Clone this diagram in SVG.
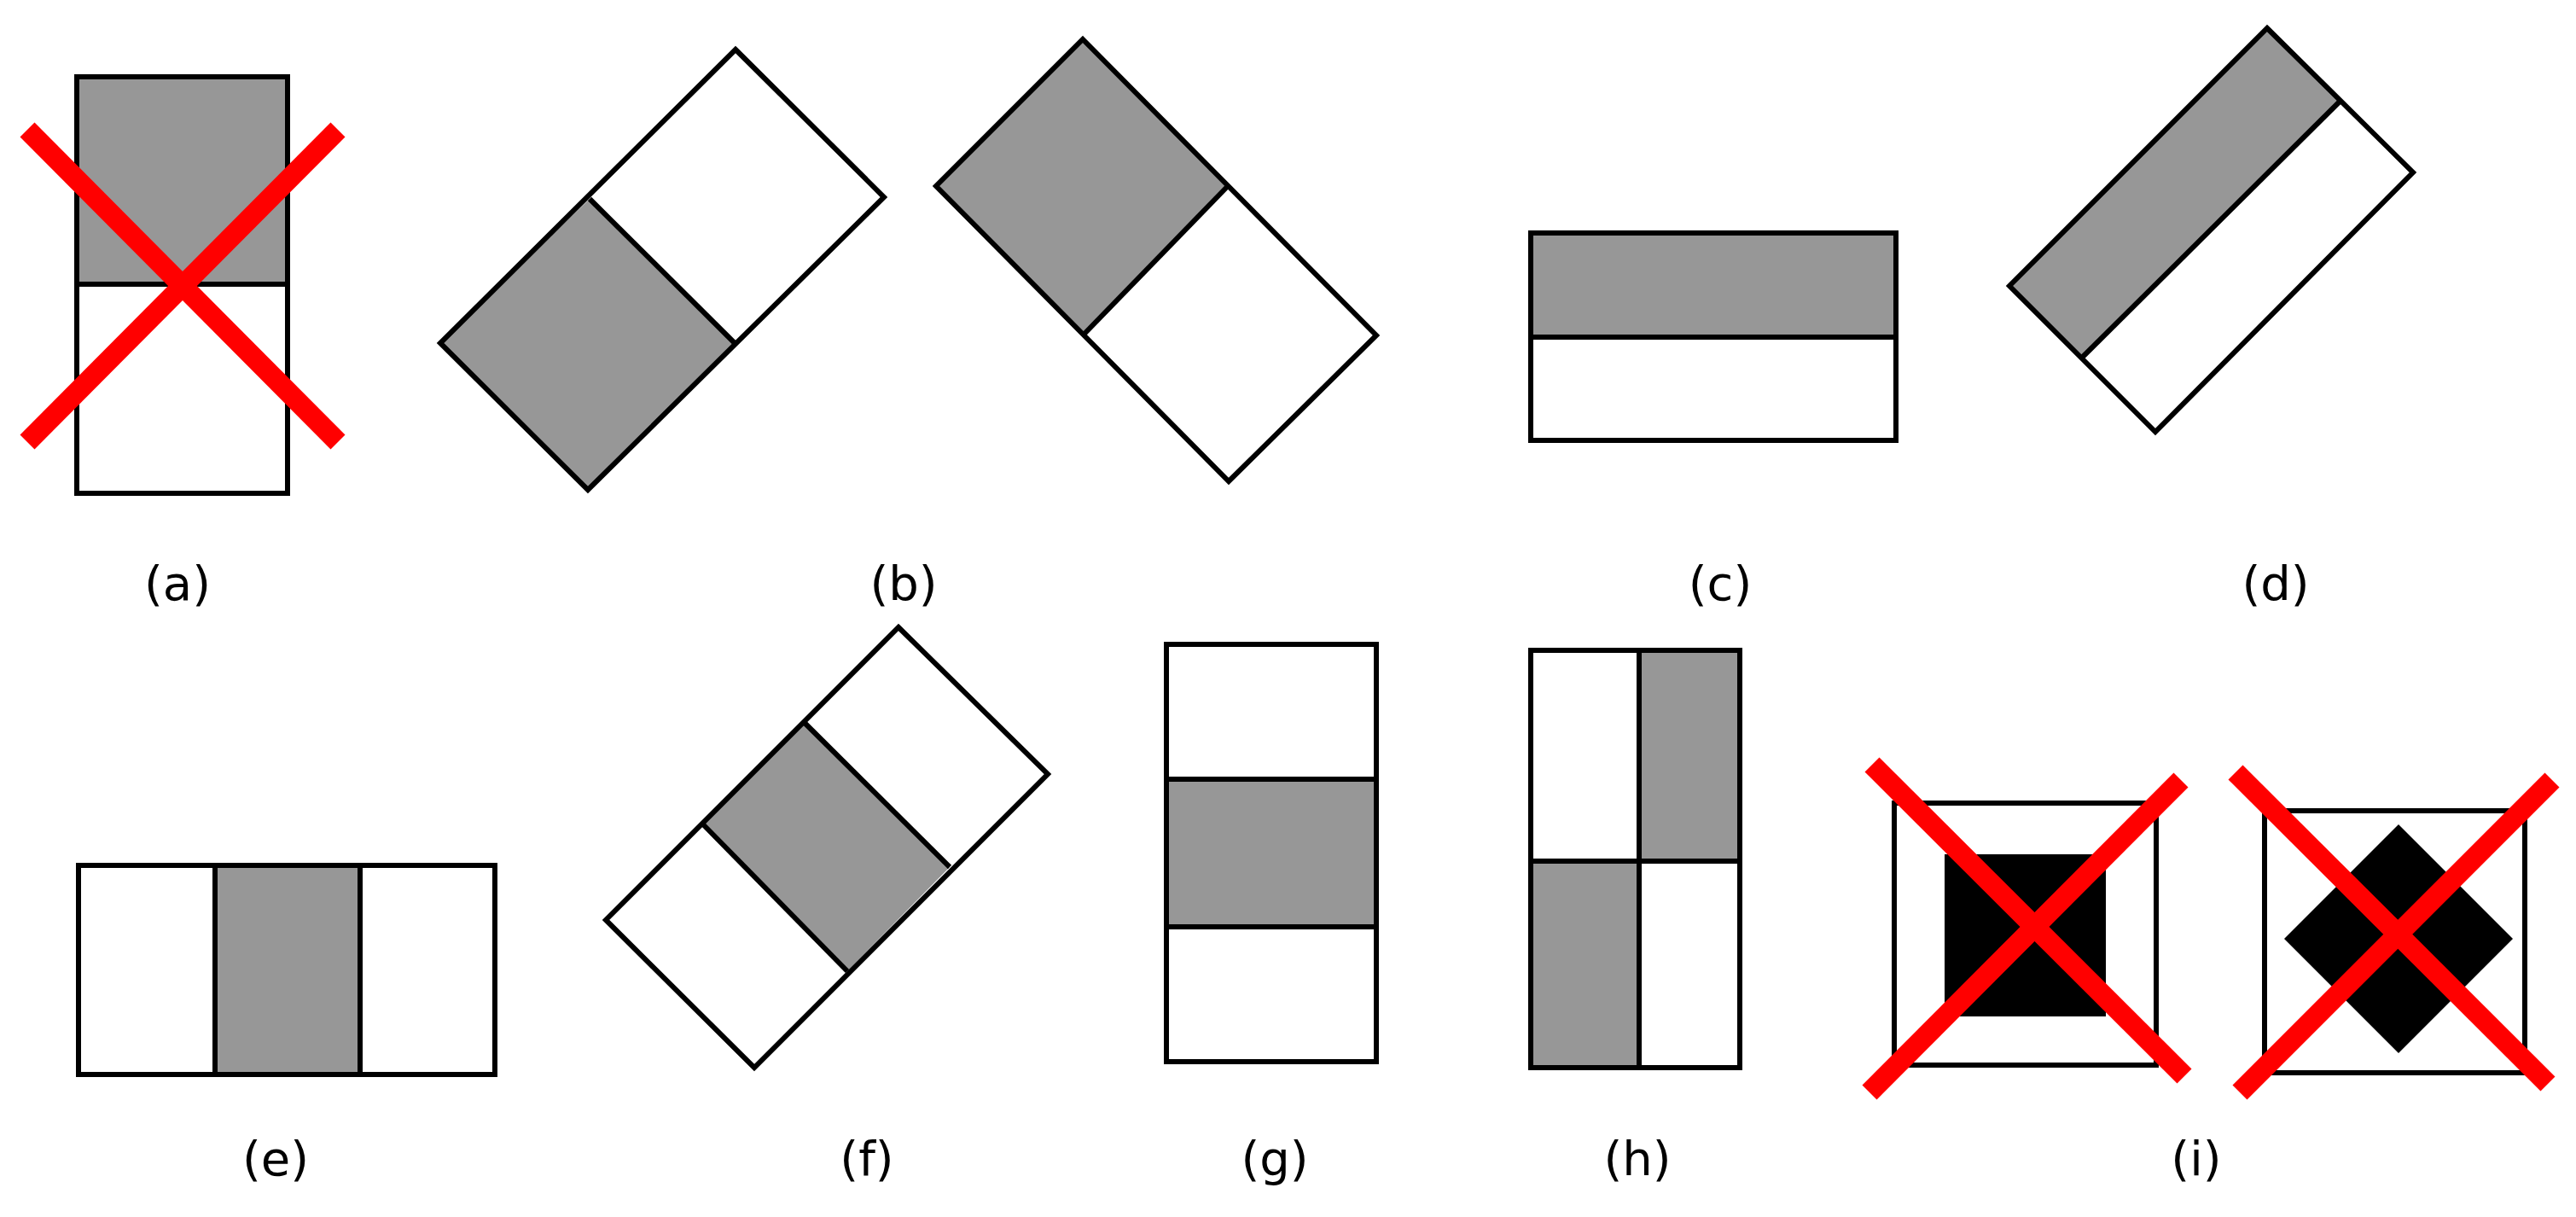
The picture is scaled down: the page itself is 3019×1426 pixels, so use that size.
<svg xmlns="http://www.w3.org/2000/svg" width="3019" height="1426" viewBox="0 0 3019 1426">
<style>
.s{stroke:#000;stroke-width:6;stroke-linejoin:miter;fill:none}
.g{fill:#979797}
.w{fill:#fff}
.x{stroke:#f00;stroke-width:24;fill:none}
text{font-family:"DejaVu Sans",sans-serif;font-size:56px;text-anchor:middle;fill:#000}
</style>
<rect width="3019" height="1426" fill="#fff"/>
<g id="a">
<rect class="g" x="90" y="90" width="247" height="243"/>
<rect class="s" x="90" y="90" width="247" height="488"/>
<line class="s" x1="90" y1="333" x2="337" y2="333"/>
<line class="x" x1="32" y1="152" x2="396" y2="518"/>
<line class="x" x1="396" y1="152" x2="32" y2="518"/>
<text x="208" y="703">(a)</text>
</g>
<g id="b1">
<polygon class="g" points="516,402 691,233 861,402 689,574"/>
<polygon class="s" points="862,58 1036,231 689,574 516,402"/>
<line class="s" x1="691" y1="233" x2="861" y2="402"/>
</g>
<g id="b2">
<polygon class="g" points="1097,218 1269,46 1438,219 1271,391"/>
<polygon class="s" points="1269,46 1613,393 1440,564 1097,218"/>
<line class="s" x1="1438" y1="219" x2="1271" y2="391"/>
<text x="1059" y="703">(b)</text>
</g>
<g id="c">
<rect class="g" x="1794" y="273" width="428" height="122"/>
<rect class="s" x="1794" y="273" width="428" height="243"/>
<line class="s" x1="1794" y1="395" x2="2222" y2="395"/>
<text x="2016" y="703">(c)</text>
</g>
<g id="d">
<polygon class="g" points="2355,335 2657,33 2742,119 2441,418"/>
<polygon class="s" points="2657,33 2828,202 2526,506 2355,335"/>
<line class="s" x1="2742" y1="119" x2="2441" y2="418"/>
<text x="2667" y="703">(d)</text>
</g>
<g id="e">
<rect class="g" x="252" y="1014" width="170" height="245"/>
<rect class="s" x="92" y="1014" width="488" height="245"/>
<line class="s" x1="252" y1="1014" x2="252" y2="1259"/>
<line class="s" x1="422" y1="1014" x2="422" y2="1259"/>
<text x="323" y="1377">(e)</text>
</g>
<g id="f">
<polygon class="g" points="943,847 1113,1016 993,1138 824,966"/>
<polygon class="s" points="1053,735 1228,907 884,1251 710,1078"/>
<line class="s" x1="943" y1="847" x2="1113" y2="1016"/>
<line class="s" x1="824" y1="966" x2="993" y2="1138"/>
<text x="1016" y="1377">(f)</text>
</g>
<g id="g">
<rect class="g" x="1367" y="913" width="246" height="173"/>
<rect class="s" x="1367" y="755" width="246" height="489"/>
<line class="s" x1="1367" y1="913" x2="1613" y2="913"/>
<line class="s" x1="1367" y1="1086" x2="1613" y2="1086"/>
<text x="1494" y="1377">(g)</text>
</g>
<g id="h">
<rect class="g" x="1921" y="762" width="118" height="247"/>
<rect class="g" x="1794" y="1009" width="127" height="242"/>
<rect class="s" x="1794" y="762" width="245" height="489"/>
<line class="s" x1="1921" y1="762" x2="1921" y2="1251"/>
<line class="s" x1="1794" y1="1009" x2="2039" y2="1009"/>
<text x="1919" y="1377">(h)</text>
</g>
<g id="i">
<rect class="s" x="2220" y="941" width="307" height="307"/>
<rect x="2279" y="1001" width="189" height="190" fill="#000"/>
<line class="x" x1="2194" y1="896" x2="2560" y2="1261"/>
<line class="x" x1="2556" y1="914" x2="2191" y2="1280"/>
<rect class="s" x="2654" y="950" width="305" height="307"/>
<polygon points="2811,966 2945,1100 2811,1234 2677,1100" fill="#000"/>
<line class="x" x1="2620" y1="905" x2="2986" y2="1270"/>
<line class="x" x1="2991" y1="914" x2="2625" y2="1280"/>
<text x="2574" y="1377">(i)</text>
</g>
</svg>
